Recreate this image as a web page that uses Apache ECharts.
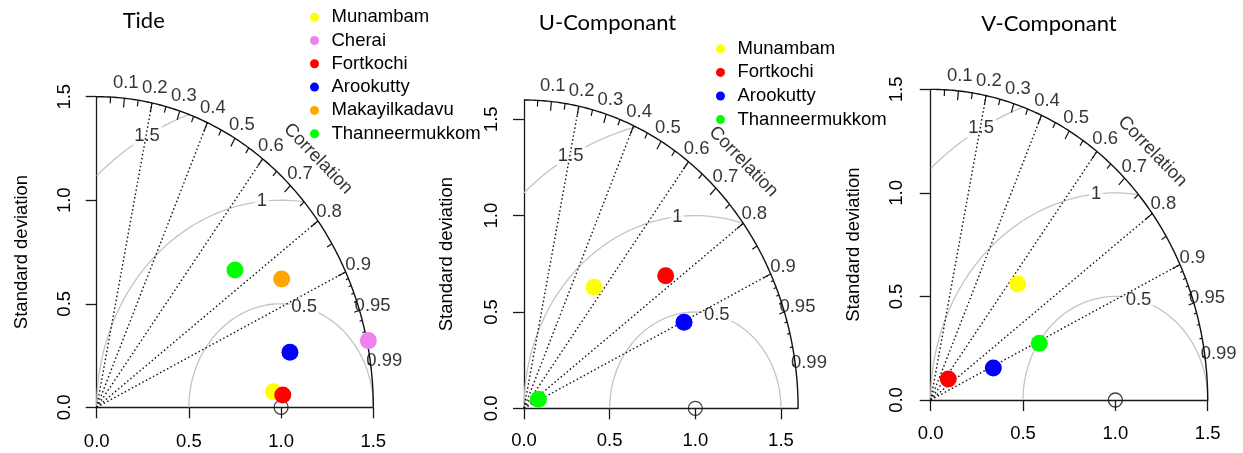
<!DOCTYPE html>
<html><head><meta charset="utf-8">
<script src="https://cdn.jsdelivr.net/npm/echarts@6/dist/echarts.min.js"></script>
<style>html,body{margin:0;padding:0;background:#fff}#c{width:1243px;height:453px}</style>
</head><body><div id="c"></div>
<script>
// ---------------- data ----------------
const panelTitles = ['Tide', 'U-Componant', 'V-Componant'];
const tideStations = ['Munambam', 'Cherai', 'Fortkochi', 'Arookutty', 'Makayilkadavu', 'Thanneermukkom'];
const tideX = [0.958, 1.473, 1.009, 1.048, 1.003, 0.750];
const tideY = [0.075, 0.322, 0.059, 0.266, 0.620, 0.663];
const uvStations = ['Munambam', 'Fortkochi', 'Arookutty', 'Thanneermukkom'];
const uX = [0.409, 0.827, 0.934, 0.084];
const uY = [0.628, 0.688, 0.446, 0.047];
const vX = [0.471, 0.095, 0.339, 0.588];
const vY = [0.560, 0.101, 0.155, 0.274];
const maxSd = [1.5, 1.6, 1.5];
const refSd = 1;
const sdTicks = [0, 0.5, 1, 1.5];
const corrLabels = [0.1, 0.2, 0.3, 0.4, 0.5, 0.6, 0.7, 0.8, 0.9, 0.95, 0.99];
const corrLines = [0.2, 0.4, 0.6, 0.8, 0.9];
const rmsLevels = [0.5, 1, 1.5];

// ---------------- styles / layout ----------------
const FONT = '"Liberation Sans", Arial, sans-serif';
const TXT = '#000';
const FS = 18.5;
const COLORS = {Munambam:'#ffff00', Cherai:'#ee82ee', Fortkochi:'#ff0000', Arookutty:'#0000ff', Makayilkadavu:'#ffa500', Thanneermukkom:'#00ff00'};
const GRIDS = [
  {left:96.7, top:96.7, width:276.6, height:310.6},
  {left:524, top:100, width:274.1, height:308.3},
  {left:930.7, top:89.35, width:277, height:310.65}
];
const Y_LABEL_MARGIN = [22, 23, 24];
const Y_NAME_GAP = [65, 68, 67];
const X_LABEL_MARGIN = [25, 23.5, 24];
const RMS_LABEL_ANGLE = {0.5: 75.5, 1: 96, 1.5: 119};
const TITLE_POS = [[143.7, 20.5], [607.5, 23], [1049, 23.5]];

const panels = [
  {names: tideStations, xs: tideX, ys: tideY},
  {names: uvStations, xs: uX, ys: uY},
  {names: uvStations, xs: vX, ys: vY}
];

function arc(cx, r, a0, a1, n) {
  const pts = [];
  for (let i = 0; i <= n; i++) {
    const a = a0 + (a1 - a0) * i / n;
    pts.push([cx + r * Math.cos(a), r * Math.sin(a)]);
  }
  return pts;
}

function segSeries(idx, segs, style, z) {
  return {
    type: 'custom', xAxisIndex: idx, yAxisIndex: idx, z: z, silent: true,
    data: segs, encode: {x: [0, 2], y: [1, 3]},
    renderItem: function (p, api) {
      const a = api.coord([api.value(0), api.value(1)]);
      const b = api.coord([api.value(2), api.value(3)]);
      return {type: 'line', shape: {x1: a[0], y1: a[1], x2: b[0], y2: b[1]},
        style: Object.assign({stroke: '#111', lineWidth: 1.2}, style)};
    }
  };
}

const grid = [], xAxis = [], yAxis = [], series = [];
panels.forEach(function (pn, i) {
  const m = maxSd[i];
  grid.push(Object.assign({containLabel: false, outerBoundsMode: 'none'}, GRIDS[i]));
  xAxis.push({
    type: 'value', gridIndex: i, min: 0, max: m,
    axisLine: {show: true, onZero: false, lineStyle: {color: '#1a1a1a', width: 1.3}},
    axisTick: {show: true, inside: false, length: 11, customValues: sdTicks, lineStyle: {color: '#1a1a1a', width: 1.3}},
    axisLabel: {show: true, customValues: sdTicks, formatter: function (v) { return v.toFixed(1); },
      margin: X_LABEL_MARGIN[i], fontSize: FS, color: TXT, fontFamily: FONT},
    splitLine: {show: false}
  });
  yAxis.push({
    type: 'value', gridIndex: i, min: 0, max: m,
    name: 'Standard deviation', nameLocation: 'middle', nameRotate: 90, nameGap: Y_NAME_GAP[i],
    nameTextStyle: {fontSize: FS, color: TXT, fontFamily: FONT},
    axisLine: {show: true, onZero: false, lineStyle: {color: '#1a1a1a', width: 1.3}},
    axisTick: {show: true, inside: false, length: 11, customValues: sdTicks, lineStyle: {color: '#1a1a1a', width: 1.3}},
    axisLabel: {show: true, customValues: sdTicks, rotate: 90, formatter: function (v) { return v.toFixed(1); },
      margin: Y_LABEL_MARGIN[i], fontSize: FS, color: TXT, fontFamily: FONT},
    splitLine: {show: false}
  });

  // RMS (gamma) contours centered at the reference point
  const rmsLbl = [];
  rmsLevels.forEach(function (g) {
    const c0 = (m * m - refSd * refSd - g * g) / (2 * g * refSd);
    const a0 = c0 >= 1 ? 0 : Math.acos(Math.max(-1, c0));
    const a1 = g <= refSd ? Math.PI : Math.acos(-refSd / g);
    series.push({type: 'line', xAxisIndex: i, yAxisIndex: i, data: arc(refSd, g, a0, a1, 160),
      showSymbol: false, symbol: 'none', clip: false, silent: true, z: 1,
      lineStyle: {color: '#c4c4c4', width: 1.3}});
    const la = RMS_LABEL_ANGLE[g] * Math.PI / 180;
    rmsLbl.push([refSd + g * Math.cos(la), g * Math.sin(la), String(g)]);
  });
  series.push({type: 'scatter', xAxisIndex: i, yAxisIndex: i, data: rmsLbl, symbolSize: 0, clip: false, silent: true, z: 2,
    label: {show: true, position: 'inside', formatter: function (p) { return p.value[2]; },
      fontSize: FS, color: TXT, fontFamily: FONT, backgroundColor: '#fff', padding: [0, 2]}});

  // outer arc
  series.push({type: 'line', xAxisIndex: i, yAxisIndex: i, data: arc(0, m, 0, Math.PI / 2, 200),
    showSymbol: false, symbol: 'none', clip: false, silent: true, z: 3,
    lineStyle: {color: '#111', width: 1.4}});

  // correlation ticks on the outer arc
  const ticks = [];
  function addTicks(list, frac) {
    list.forEach(function (r) {
      const s = Math.sqrt(1 - r * r);
      ticks.push([m * r, m * s, m * frac * r, m * frac * s]);
    });
  }
  addTicks(corrLabels.slice(0, 9), 0.97);
  addTicks([0.05, 0.15, 0.25, 0.35, 0.45, 0.55, 0.65, 0.75, 0.85, 0.95], 0.98);
  addTicks([0.91, 0.92, 0.93, 0.94, 0.96, 0.97, 0.98, 0.99], 0.99);
  series.push(segSeries(i, ticks, {lineWidth: 1.2}, 3));

  // dotted correlation lines
  series.push(segSeries(i, corrLines.map(function (r) {
    return [0, 0, m * r, m * Math.sqrt(1 - r * r)];
  }), {lineWidth: 1.4, lineDash: [1.5, 2.5]}, 3));

  // correlation labels
  series.push({type: 'scatter', xAxisIndex: i, yAxisIndex: i, symbolSize: 0, clip: false, silent: true, z: 3,
    data: corrLabels.map(function (r) { return [1.05 * m * r, 1.05 * m * Math.sqrt(1 - r * r), String(r)]; }),
    label: {show: true, position: 'inside', formatter: function (p) { return p.value[2]; },
      fontSize: FS, color: TXT, fontFamily: FONT}});
  series.push({type: 'scatter', xAxisIndex: i, yAxisIndex: i, symbolSize: 0, clip: false, silent: true, z: 3,
    data: [[0.8 * m, 0.8 * m]],
    label: {show: true, position: 'inside', formatter: 'Correlation', rotate: -46,
      fontSize: FS, color: TXT, fontFamily: FONT}});

  // reference point
  series.push({type: 'scatter', xAxisIndex: i, yAxisIndex: i, symbol: 'circle', symbolSize: 14, clip: false, silent: true, z: 4,
    data: [[refSd, 0]], itemStyle: {color: 'rgba(0,0,0,0)', borderColor: '#111', borderWidth: 1.3}});

  // station points
  pn.names.forEach(function (nm, k) {
    series.push({type: 'scatter', name: nm, xAxisIndex: i, yAxisIndex: i, symbol: 'circle', symbolSize: 17, clip: false, z: 5,
      data: [[pn.xs[k], pn.ys[k]]], itemStyle: {color: COLORS[nm], opacity: 1}});
  });
});

const legendBase = {orient: 'vertical', icon: 'circle', itemWidth: 24, itemHeight: 9, padding: 0,
  itemGap: 4.3, selectedMode: false, textStyle: {fontSize: FS, lineHeight: 18, color: TXT, fontFamily: FONT}};

const option = {
  animation: false,
  backgroundColor: '#fff',
  grid: grid, xAxis: xAxis, yAxis: yAxis, series: series,
  legend: [
    Object.assign({}, legendBase, {left: 310, top: 7.7, data: tideStations}),
    Object.assign({}, legendBase, {left: 716, top: 39.3, data: uvStations, itemGap: 4.6})
  ],
  graphic: panelTitles.map(function (t, i) {
    return {type: 'text', x: TITLE_POS[i][0], y: TITLE_POS[i][1], silent: true,
      style: {text: t, font: '22px Lato, "Open Sans", sans-serif', fill: '#000',
        textAlign: 'center', align: 'center', textVerticalAlign: 'middle', verticalAlign: 'middle'}};
  })
};
const chart = echarts.init(document.getElementById('c'), null, {renderer: 'canvas'});
chart.setOption(option);
</script>
</body></html>
